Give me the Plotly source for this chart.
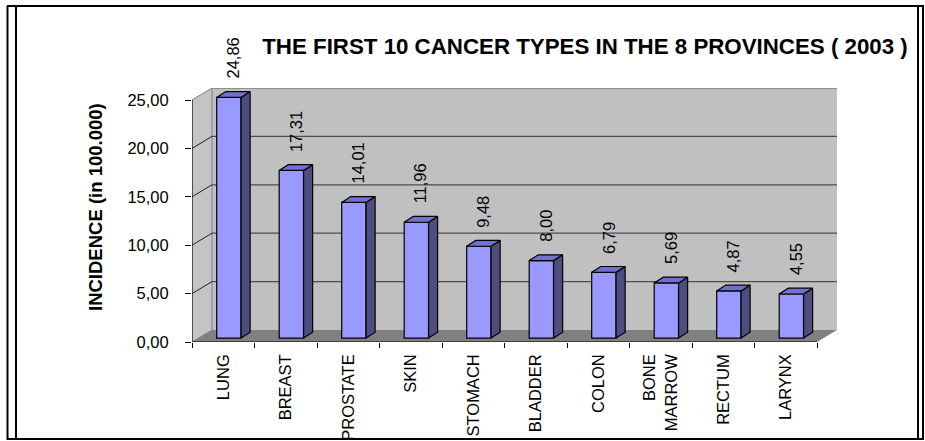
import plotly.graph_objects as go

# ---- data ----
categories = ["LUNG", "BREAST", "PROSTATE", "SKIN", "STOMACH", "BLADDER",
              "COLON", "BONE<br>MARROW", "RECTUM", "LARYNX"]
incidence = [24.86, 17.31, 14.01, 11.96, 9.48, 8.00, 6.79, 5.69, 4.87, 4.55]
y_ticks = [0, 5, 10, 15, 20, 25]
title_text = "THE FIRST 10 CANCER TYPES IN THE 8 PROVINCES ( 2003 )"
y_title = "INCIDENCE (in 100.000)"

# ---- geometry (oblique 3D look) ----
W, H = 925, 441
L, R, T, B = 192, 88, 88, 99
YMAX = 25
DX, DY = 0.32, 1.24          # wall depth in axis units
BX0, BY0 = 0.09, 0.41        # bar front offset within depth
BW = 0.39                    # bar width
BDX, BDY = 0.145, 0.60       # bar depth
n = len(categories)

FONT = "Liberation Sans, Arial, sans-serif"

fig = go.Figure()

# front faces
xc = [i + 0.5 + BX0 for i in range(n)]
fig.add_trace(go.Bar(
    x=xc, y=incidence, base=BY0, width=BW,
    marker=dict(color="#9999ff", line=dict(color="black", width=1.2)),
    hoverinfo="skip", showlegend=False))

# side faces and top faces
sx, sy, tx, ty = [], [], [], []
for x, v in zip(xc, incidence):
    xl, xr = x - BW / 2, x + BW / 2
    top = v + BY0
    sx += [xr, xr + BDX, xr + BDX, xr, xr, None]
    sy += [BY0, BY0 + BDY, top + BDY, top, BY0, None]
    tx += [xl, xl + BDX, xr + BDX, xr, xl, None]
    ty += [top, top + BDY, top + BDY, top, top, None]
fig.add_trace(go.Scatter(x=sx, y=sy, mode="lines", fill="toself",
                         fillcolor="#4d4d80", line=dict(color="black", width=1.2),
                         hoverinfo="skip", showlegend=False))
fig.add_trace(go.Scatter(x=tx, y=ty, mode="lines", fill="toself",
                         fillcolor="#7070d0", line=dict(color="black", width=1.2),
                         hoverinfo="skip", showlegend=False))

shapes = []
# back wall
shapes.append(dict(type="rect", xref="x", yref="y", x0=DX, x1=n + DX, y0=DY, y1=YMAX + DY,
                   fillcolor="#c0c0c0", line=dict(width=0), layer="below"))
# side wall
shapes.append(dict(type="path", xref="x", yref="y",
                   path=f"M0,0 L{DX},{DY} L{DX},{YMAX+DY} L0,{YMAX} Z",
                   fillcolor="#c4c4c4", line=dict(color="#808080", width=1), layer="below"))
# floor
shapes.append(dict(type="path", xref="x", yref="y",
                   path=f"M0,0 L{n},0 L{n+DX},{DY} L{DX},{DY} Z",
                   fillcolor="#808080", line=dict(width=0), layer="below"))
# back wall top edge
shapes.append(dict(type="line", xref="x", yref="y", x0=DX, x1=n + DX, y0=YMAX + DY, y1=YMAX + DY,
                   line=dict(color="#808080", width=1.5), layer="below"))
# gridlines
for k in y_ticks[1:-1]:
    shapes.append(dict(type="line", xref="x", yref="y", x0=DX, x1=n + DX, y0=k + DY, y1=k + DY,
                       line=dict(color="#4d4d4d", width=1.2), layer="below"))
    shapes.append(dict(type="line", xref="x", yref="y", x0=0, x1=DX, y0=k, y1=k + DY,
                       line=dict(color="#222222", width=1), layer="below"))
# front axis lines
shapes.append(dict(type="line", xref="x", yref="y", x0=0, x1=0, y0=0, y1=YMAX,
                   line=dict(color="black", width=1)))
shapes.append(dict(type="line", xref="x", yref="y", x0=0, x1=n, y0=0, y1=0,
                   line=dict(color="black", width=1)))

# outer frame (pixel helpers)
def px(xp):
    return (xp - L) / (W - L - R)
def py(yp):
    return (H - B - yp) / (H - T - B)
frame = [
    (7.5, 6, 7.5, 440), (16, 7, 16, 440), (918, 7, 918, 440), (923, 6, 923, 440),
    (7, 6, 924, 6), (7, 439, 924, 439),
]
for x0, y0, x1, y1 in frame:
    shapes.append(dict(type="line", xref="paper", yref="paper",
                       x0=px(x0), x1=px(x1), y0=py(y0), y1=py(y1),
                       line=dict(color="black", width=2)))

# data labels
annotations = []
for x, v in zip(xc, incidence):
    annotations.append(dict(
        x=x + BDX / 2, y=v + BY0 + BDY, xref="x", yref="y",
        text=f"{v:.2f}".replace(".", ","), textangle=-90, showarrow=False,
        xanchor="center", yanchor="bottom", yshift=11,
        font=dict(family=FONT, size=16.5, color="black")))
annotations.append(dict(
    x=px(95), y=py(207), xref="paper", yref="paper", text=f"<b>{y_title}</b>",
    textangle=-90, showarrow=False, xanchor="center", yanchor="middle",
    font=dict(family=FONT, size=18.5, color="black")))

fig.update_layout(
    width=W, height=H, margin=dict(l=L, r=R, t=T, b=B, autoexpand=False),
    paper_bgcolor="white", plot_bgcolor="white",
    separators=",.",
    shapes=shapes, annotations=annotations,
    title=dict(text=f"<b>{title_text}</b>", x=585 / W, xref="container", xanchor="center",
               y=1 - 46 / H, yref="container", yanchor="middle",
               font=dict(family=FONT, size=22.3, color="black")),
    xaxis=dict(range=[0, n + DX], tickmode="array", tickvals=[i + 0.5 for i in range(n)],
               ticktext=categories, tickangle=-90, ticks="", showgrid=False, zeroline=False,
               showline=False, ticklabelstandoff=8, automargin=False,
               tickfont=dict(family=FONT, size=16.5, color="black"),
               minor=dict(tickmode="array", tickvals=list(range(n + 1)), ticks="outside",
                          ticklen=5, tickcolor="black", tickwidth=1, showgrid=False)),
    yaxis=dict(range=[0, YMAX + DY], tickmode="array", tickvals=y_ticks, tickformat=".2f",
               ticks="outside", ticklen=6, tickcolor="black", tickwidth=1, automargin=False,
               showgrid=False, zeroline=False, showline=False, ticklabelstandoff=13,
               tickfont=dict(family=FONT, size=16.5, color="black")),
)

fig.write_html("out.html", config={"displayModeBar": False},
               post_script="document.body.style.margin='0';document.body.style.padding='0';"
                           "document.documentElement.style.overflow='hidden';")
